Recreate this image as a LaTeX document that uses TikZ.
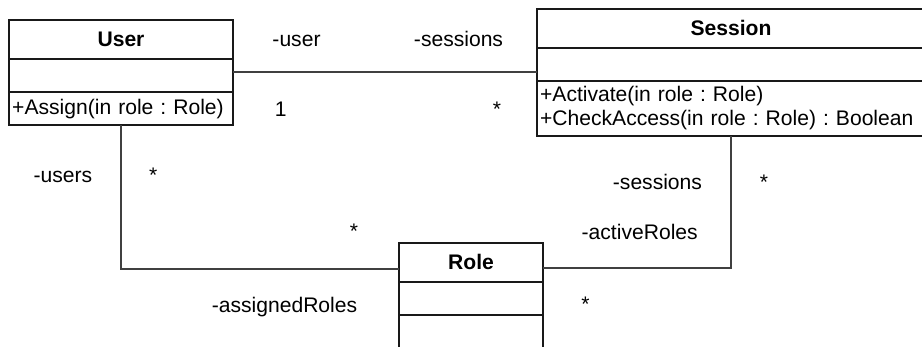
\documentclass[tikz,border=0pt]{standalone}
\usepackage{fontspec}
\setmainfont{Liberation Sans}
\usetikzlibrary{positioning}
\frenchspacing

\begin{document}
\begin{tikzpicture}[font=\fontsize{10}{11.4}\selectfont]
    \tikzset{ box/.style={draw=black!90, line width=0.9pt, fill=white, inner xsep=1.5pt, inner ysep=0pt, outer sep=0pt, anchor=north},
              head/.style={box, font=\fontsize{10}{11.4}\selectfont\bfseries, align=center, minimum height=18.3pt},
              part/.style={box, align=left, minimum height=15.8pt},
              link/.style={draw=black!75, line width=0.5pt},
              lbl/.style={anchor=base, inner sep=0pt} }
    \useasboundingbox (0, 0) rectangle (15.367, -5.783);
    \clip (0, 0) rectangle (15.367, -5.783);

    \node[head, text width=103.2pt] (User) at (2.017, -0.333) {User};
    \node[part, text width=103.2pt, below=0pt of User] (User-attr) {};
    \node[part, text width=103.2pt, below=0pt of User-attr] (User-ops) {+Assign(in role : Role)};

    \node[head, text width=181pt] (Session) at (12.183, -0.15) {Session};
    \node[part, text width=181pt, below=0pt of Session] (Session-attr) {};
    \node[part, text width=181pt, below=0pt of Session-attr, minimum height=26.1pt] (Session-ops) {+Activate(in role : Role)\\+CheckAccess(in role : Role) : Boolean};

    \node[head, text width=65.3pt] (Role) at (7.85, -4.05) {Role};
    \node[part, text width=65.3pt, below=0pt of Role] (Role-attr) {};
    \node[part, text width=65.3pt, below=0pt of Role-attr, minimum height=20pt] (Role-ops) {};

    \coordinate (us) at (0, -1.2);
    \coordinate (ur) at (0, -4.483);
    \coordinate (sr) at (0, -4.467);
    \draw[link] (User-attr.east |- us) -- (Session-attr.west |- us);
    \draw[link] (User-ops.south) |- (Role.west |- ur);
    \draw[link] (Session-ops.south) |- (Role.east |- sr);

    \node[lbl] (user-end) at (4.942, -0.778) {-user};
    \node[lbl] (sessions-end) at (7.642, -0.778) {-sessions};
    \node[lbl] (user-mult) at (4.680, -1.945) {1};
    \node[lbl] (sessions-mult) at (8.283, -1.945) {*};
    \node[lbl] (users-end) at (1.050, -3.045) {-users};
    \node[lbl] (users-mult) at (2.555, -3.045) {*};
    \node[lbl] (assigned-mult) at (5.900, -3.967) {*};
    \node[lbl] (assigned-end) at (4.742, -5.212) {-assignedRoles};
    \node[lbl] (sessions2-end) at (10.958, -3.155) {-sessions};
    \node[lbl] (sessions2-mult) at (12.733, -3.165) {*};
    \node[lbl] (active-end) at (10.662, -3.988) {-activeRoles};
    \node[lbl] (active-mult) at (9.758, -5.190) {*};
\end{tikzpicture}
\end{document}
